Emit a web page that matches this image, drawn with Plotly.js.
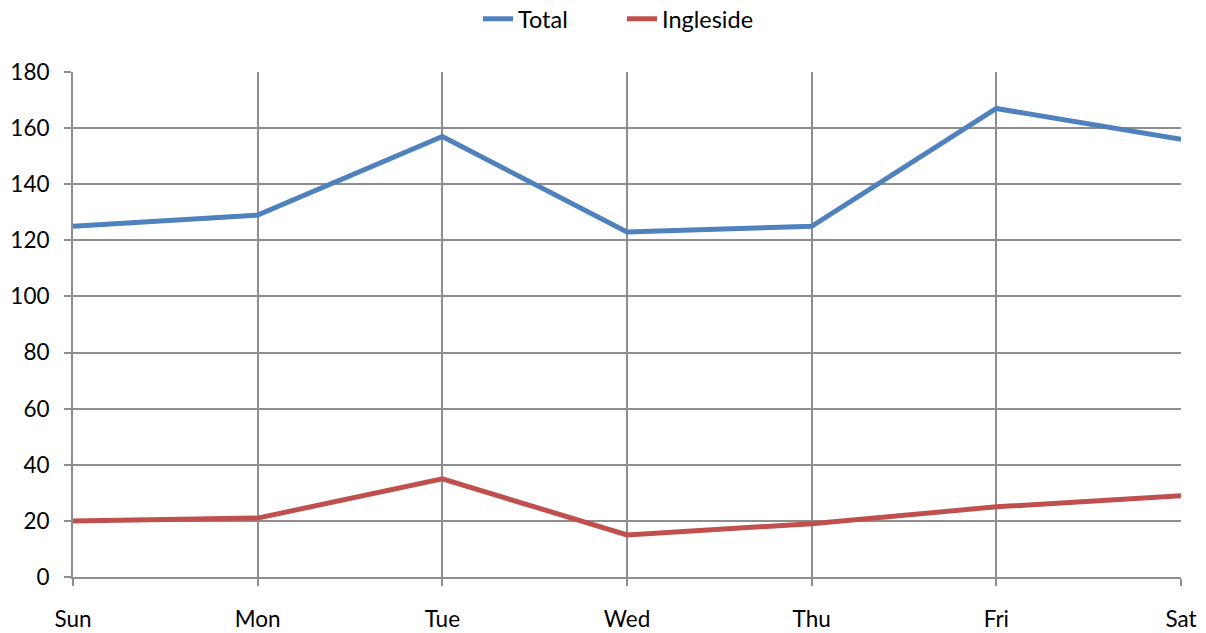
<!DOCTYPE html>
<html><head><meta charset="utf-8">
<script src="https://cdn.plot.ly/plotly-3.0.1.min.js"></script>
<style>html,body{margin:0;padding:0;background:#fff}#c{width:1206px;height:633px}</style>
</head><body><div id="c"></div>
<script>
const days = ["Sun","Mon","Tue","Wed","Thu","Fri","Sat"];
const totalValues = [125,129,157,123,125,167,156];
const inglesideValues = [20,21,35,15,19,25,29];
const yTicks = [0,20,40,60,80,100,120,140,160,180];

const font = {family:"Lato, 'Open Sans', sans-serif", size:22.5, color:"#000"};
const grid = "#8E8E8E";
const data = [
  {x:days, y:totalValues, name:"Total", type:"scatter", mode:"lines", line:{color:"#4F81BD", width:5}},
  {x:days, y:inglesideValues, name:"Ingleside", type:"scatter", mode:"lines", line:{color:"#C0504D", width:5}}
];
const layout = {
  width:1206, height:633,
  margin:{l:73, r:25, t:72, b:56, autoexpand:false},
  paper_bgcolor:"#fff", plot_bgcolor:"#fff",
  font: font,
  showlegend:true,
  legend:{orientation:"h", x:478/1206, xanchor:"left", xref:"container", y:1-19/633, yref:"container", yanchor:"middle",
    font:{family:font.family, size:23.5, color:"#000"}, tracegroupgap:0, entrywidth:99},
  xaxis:{type:"category", range:[0,6], showgrid:true, gridcolor:grid, gridwidth:2,
    showline:true, linecolor:grid, linewidth:2, ticks:"outside", ticklen:7, tickwidth:2, tickcolor:grid,
    ticklabelstandoff:14, tickfont:font, zeroline:false, fixedrange:true},
  yaxis:{range:[0,180], tickvals:yTicks, showgrid:true, gridcolor:grid, gridwidth:2,
    showline:true, linecolor:grid, linewidth:2, ticks:"outside", ticklen:7, tickwidth:2, tickcolor:grid,
    ticklabelstandoff:10, tickfont:font, zeroline:false, fixedrange:true}
};
Plotly.newPlot("c", data, layout, {displayModeBar:false, staticPlot:true});
</script></body></html>
